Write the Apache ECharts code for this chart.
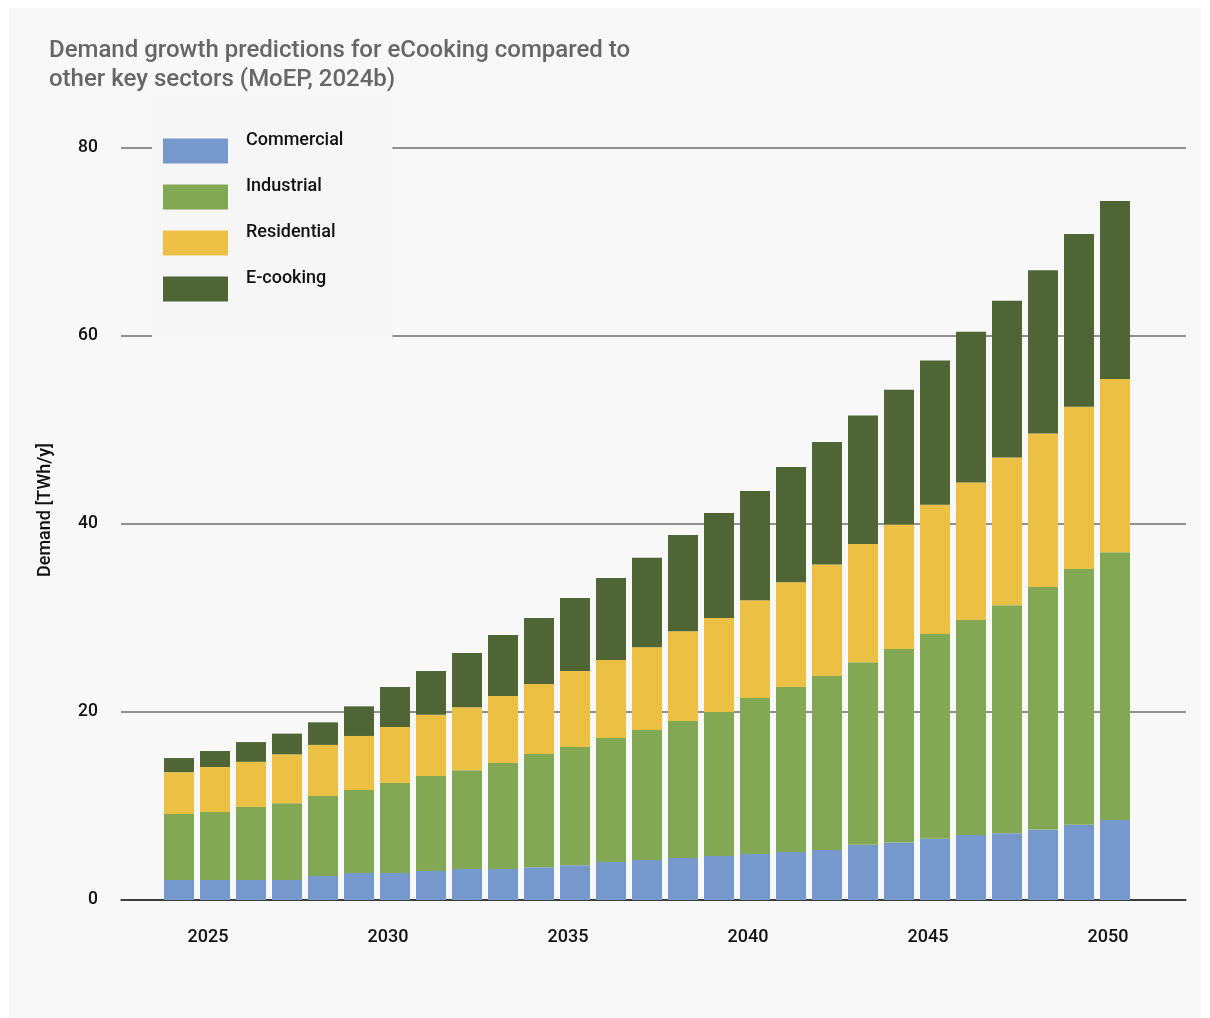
<!DOCTYPE html>
<html>
<head>
<meta charset="utf-8">
<script src="https://cdn.jsdelivr.net/npm/echarts@6/dist/echarts.min.js"></script>
<style>
  html, body { margin: 0; padding: 0; background: #ffffff; }
  #panel { position: absolute; left: 9px; top: 8px; width: 1192px; height: 1010px; background: #f8f8f8; }
  #chart { position: absolute; left: 0; top: 0; width: 1210px; height: 1018px; }
</style>
</head>
<body>
<div id="panel"></div>
<div id="chart"></div>
<script>
const years = ['2024','2025','2026','2027','2028','2029','2030','2031','2032','2033','2034','2035','2036','2037','2038','2039','2040','2041','2042','2043','2044','2045','2046','2047','2048','2049','2050'];
const commercial = [2.13,2.13,2.13,2.13,2.55,2.87,2.87,3.09,3.3,3.3,3.48,3.69,4.04,4.26,4.47,4.68,4.89,5.1,5.32,5.88,6.11,6.51,6.91,7.11,7.51,8.01,8.51];
const industrial = [7.02,7.23,7.77,8.17,8.51,8.83,9.58,10.11,10.5,11.27,12.05,12.59,13.19,13.83,14.57,15.32,16.6,17.56,18.51,19.42,20.58,21.78,22.88,24.24,25.79,27.19,28.49];
const residential = [4.45,4.79,4.8,5.2,5.44,5.75,5.95,6.5,6.7,7.13,7.45,8.08,8.3,8.81,9.56,10.0,10.41,11.14,11.87,12.57,13.27,13.77,14.63,15.72,16.32,17.28,18.43];
const ecooking = [1.5,1.7,2.1,2.2,2.4,3.15,4.26,4.66,5.78,6.49,7.02,7.77,8.73,9.5,10.23,11.17,11.61,12.26,13.02,13.68,14.32,15.33,16.02,16.68,17.38,18.38,18.93];
const yTicks = { min: 0, max: 80, interval: 20 };
const seriesNames = ['Commercial','Industrial','Residential','E-cooking'];
const seriesColors = ['#7798cd','#82a853','#ecbf45','#4f6536'];
const titleText = 'Demand growth predictions for eCooking compared to\nother key sectors (MoEP, 2024b)';
const yName = 'Demand [TWh/y]';

const FONT = 'Roboto, "Noto Sans", sans-serif';
const chart = echarts.init(document.getElementById('chart'), null, { renderer: 'canvas' });
const values = [commercial, industrial, residential, ecooking];

chart.setOption({
  backgroundColor: 'transparent',
  animation: false,
  title: {
    text: titleText,
    left: 44, top: 31,
    textStyle: { fontFamily: FONT, fontSize: 24, fontWeight: 500, color: '#666666', lineHeight: 29 }
  },
  legend: {
    orient: 'vertical',
    left: 152, top: 97,
    backgroundColor: '#f6f6f6',
    padding: [34, 49, 28, 11],
    itemWidth: 65, itemHeight: 25, itemGap: 6,
    icon: 'rect',
    selectedMode: false,
    formatter: '{t|{name}}',
    textStyle: {
      fontFamily: FONT, fontSize: 18, fontWeight: 500, color: '#111111',
      rich: { t: { fontFamily: FONT, fontSize: 18, fontWeight: 500, color: '#111111', lineHeight: 18, padding: [0, 0, 22, 13] } }
    },
    data: seriesNames
  },
  grid: [
    { left: 121, right: 24, top: 148, bottom: 118 },
    { left: 161, right: 77, top: 148, bottom: 118 }
  ],
  xAxis: [
    { type: 'value', gridIndex: 0, min: 0, max: 1, show: true,
      axisLine: { show: true, onZero: false, lineStyle: { color: '#333333', width: 1.5 } },
      axisTick: { show: false }, axisLabel: { show: false }, splitLine: { show: false } },
    { type: 'category', gridIndex: 1, data: years,
      axisLine: { show: false }, axisTick: { show: false },
      axisLabel: { interval: function (i, v) { return Number(v) % 5 === 0; },
        fontFamily: FONT, fontSize: 18, fontWeight: 500, color: '#111111', margin: 28,
        padding: [0, 14, 0, 0] } }
  ],
  yAxis: [
    { type: 'value', gridIndex: 0, min: yTicks.min, max: yTicks.max, interval: yTicks.interval,
      name: yName, nameLocation: 'middle', nameGap: 67,
      nameTextStyle: { fontFamily: FONT, fontSize: 18, fontWeight: 500, color: '#111111', padding: [0, 0, 0, 28] },
      axisLine: { show: false }, axisTick: { show: false },
      axisLabel: { fontFamily: FONT, fontSize: 17.5, fontWeight: 500, color: '#111111', margin: 23 },
      splitLine: { lineStyle: { color: ['#333333', '#6e6e6e', '#6e6e6e', '#6e6e6e', '#6e6e6e'], width: 1.5 } } },
    { type: 'value', gridIndex: 1, min: yTicks.min, max: yTicks.max, interval: yTicks.interval, show: false }
  ],
  series: seriesNames.map(function (name, k) {
    return {
      name: name, type: 'bar', stack: 'total', xAxisIndex: 1, yAxisIndex: 1,
      barWidth: 30, itemStyle: { color: seriesColors[k] },
      data: values[k]
    };
  })
});
</script>
</body>
</html>
